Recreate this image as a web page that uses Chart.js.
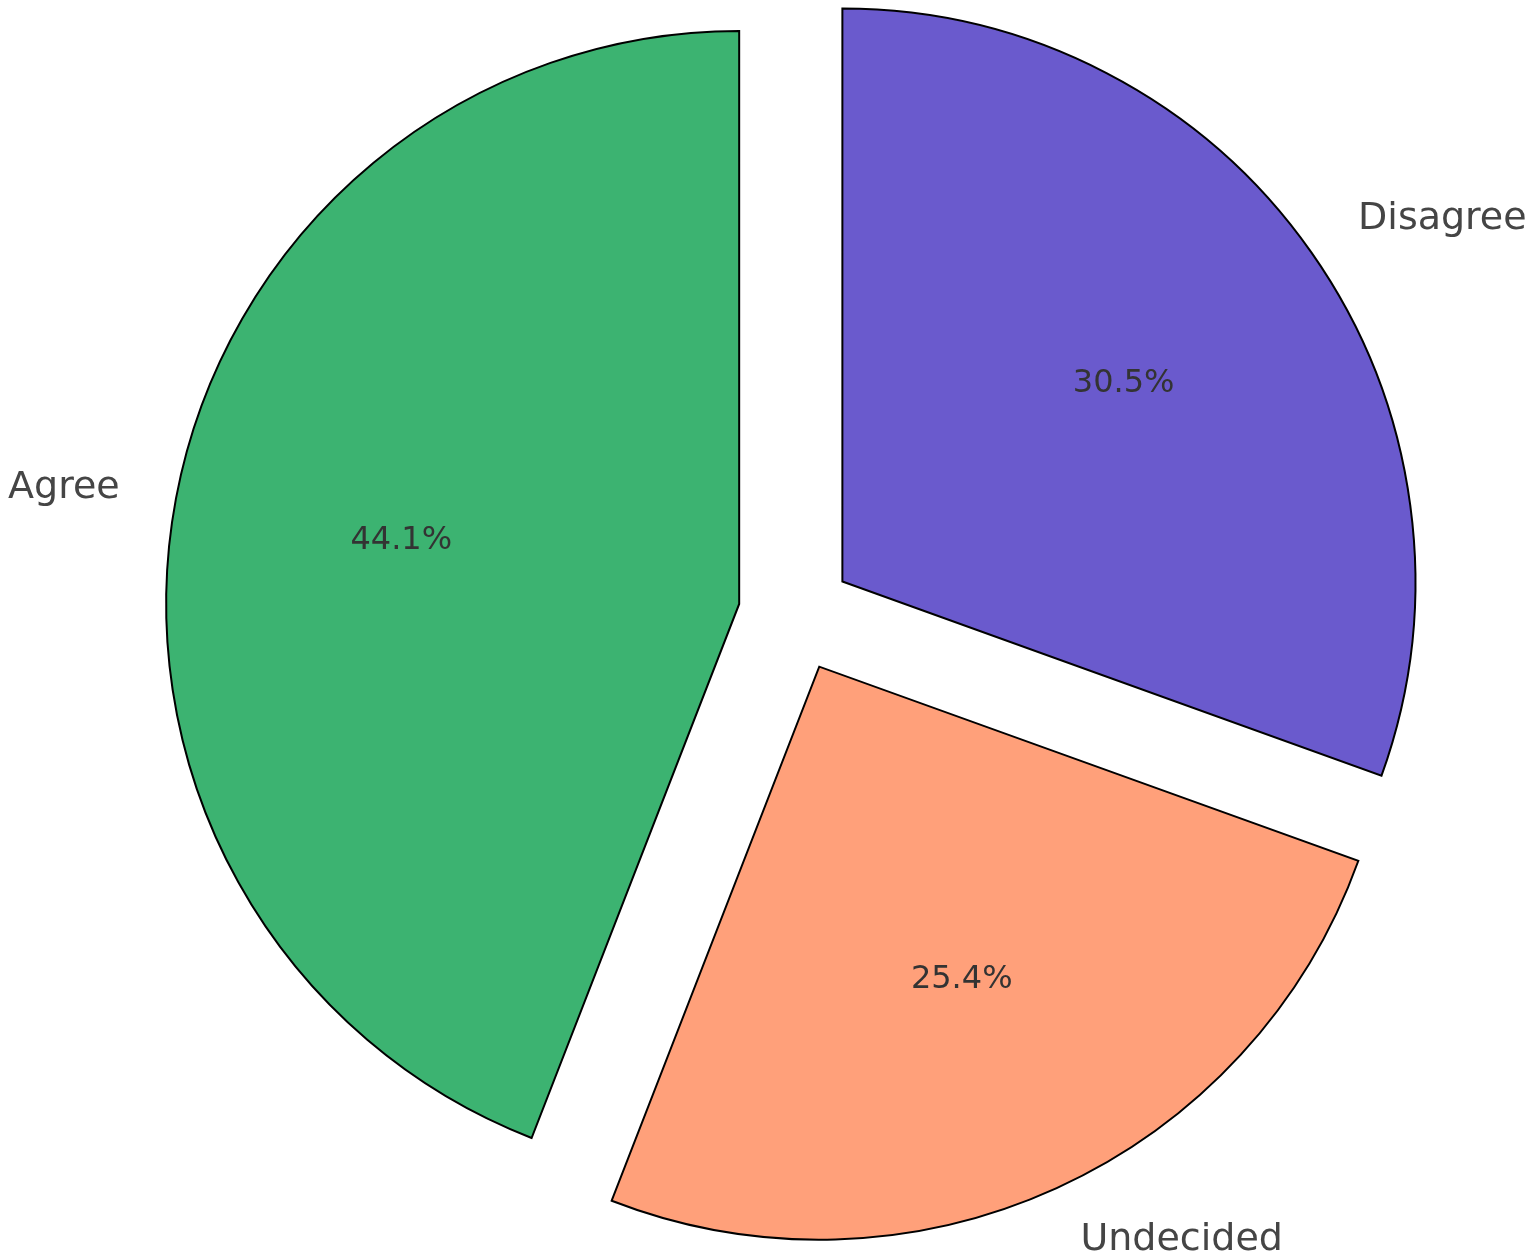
<!DOCTYPE html>
<html>
<head>
<meta charset="utf-8">
<title>Opinion pie</title>
<script src="https://cdn.jsdelivr.net/npm/chart.js@4.4.1/dist/chart.umd.min.js"></script>
<style>
    body { margin: 0; background: #fff; }
    #wrap { width: 1535px; height: 1258px; position: relative; }
</style>
</head>
<body>
<div id="wrap"><canvas id="pie"></canvas></div>
<script>
// data, in the order matplotlib drew it (counterclockwise from 12 o'clock)
const categories = ['Agree', 'Undecided', 'Disagree'];
const shares = [44.1, 25.4, 30.5];
const sliceColors = ['#3CB371', '#FFA07A', '#6A5ACD'];

const RADIUS = 573;
const EXPLODE = 57.3;          // 0.1 * radius, same for every slice
const LABEL_FONT = 38;
const PCT_FONT = 32;
const FONT = '"DejaVu Sans", sans-serif';

// chart.js goes clockwise, so feed the slices reversed
const order = categories.map((c, i) => i).reverse();

// push every slice out along its middle angle (like matplotlib's explode).
// chart.js's own "offset" also bends the radius and angles of wide slices,
// so the arcs are moved here instead
const explode = {
    id: 'explode',
    beforeDatasetsDraw(chart) {
        let area = chart.chartArea;
        let x0 = (area.left + area.right) / 2;
        let y0 = (area.top + area.bottom) / 2;
        chart.getDatasetMeta(0).data.forEach(arc => {
            let mid = (arc.startAngle + arc.endAngle) / 2;
            arc.x = x0 + Math.cos(mid) * EXPLODE;
            arc.y = y0 + Math.sin(mid) * EXPLODE;
        });
    }
};

const pieLabels = {
    id: 'pieLabels',
    afterDatasetsDraw(chart) {
        let ctx = chart.ctx;
        let meta = chart.getDatasetMeta(0);
        ctx.save();
        meta.data.forEach((arc, i) => {
            let k = order[i];
            let mid = (arc.startAngle + arc.endAngle) / 2;

            // category name outside
            let lx = arc.x + Math.cos(mid) * RADIUS * 1.1;
            let ly = arc.y + Math.sin(mid) * RADIUS * 1.1;
            ctx.font = LABEL_FONT + 'px ' + FONT;
            ctx.fillStyle = '#454545';
            ctx.textAlign = Math.cos(mid) > 0 ? 'left' : 'right';
            ctx.textBaseline = 'alphabetic';
            ctx.fillText(categories[k], lx, ly + 0.262 * LABEL_FONT);

            // percentage inside
            let px = arc.x + Math.cos(mid) * RADIUS * 0.6;
            let py = arc.y + Math.sin(mid) * RADIUS * 0.6;
            ctx.font = PCT_FONT + 'px ' + FONT;
            ctx.fillStyle = '#333333';
            ctx.textAlign = 'center';
            ctx.fillText(shares[k].toFixed(1) + '%', px, py + 0.262 * PCT_FONT);
        });
        ctx.restore();
    }
};

new Chart(document.getElementById('pie'), {
    type: 'pie',
    data: {
        labels: order.map(i => categories[i]),
        datasets: [{
            data: order.map(i => shares[i]),
            backgroundColor: order.map(i => sliceColors[i]),
            borderColor: '#000000',
            borderWidth: 2,
            borderJoinStyle: 'miter',
            offset: 0,
            hoverOffset: 0
        }]
    },
    options: {
        responsive: true,
        maintainAspectRatio: false,
        animation: false,
        events: [],
        radius: RADIUS,
        layout: { padding: { left: 56, right: 0, top: 0, bottom: 29 } },
        plugins: {
            legend: { display: false },
            tooltip: { enabled: false }
        }
    },
    plugins: [explode, pieLabels]
});
</script>
</body>
</html>
